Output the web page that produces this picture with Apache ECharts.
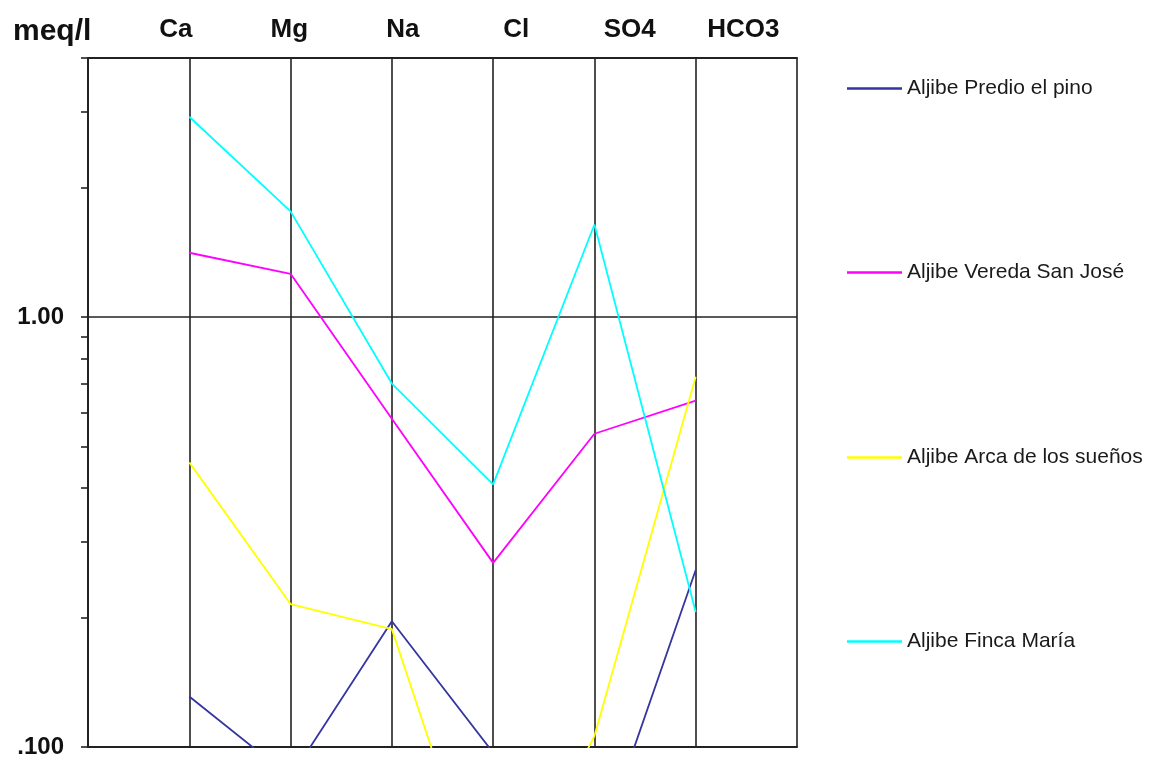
<!DOCTYPE html>
<html><head><meta charset="utf-8">
<script src="https://cdn.jsdelivr.net/npm/echarts@6/dist/echarts.min.js"></script>
<style>html,body{margin:0;padding:0;background:#fff}#c{width:1152px;height:761px}</style>
</head><body><div id="c"></div>
<script>
// ---- data ----
const ions = ['Ca', 'Mg', 'Na', 'Cl', 'SO4', 'HCO3'];
const names = ['Aljibe Predio el pino', 'Aljibe Vereda San José', 'Aljibe Arca de los sueños', 'Aljibe Finca María'];
const predio  = [0.131, 0.085, 0.196, 0.097, 0.054, 0.258];
const sanJose = [1.41, 1.26, 0.58, 0.268, 0.535, 0.639];
const arca    = [0.459, 0.215, 0.188, 0.037, 0.106, 0.726];
const finca   = [2.92, 1.76, 0.70, 0.408, 1.64, 0.206];
const yLabelValues = [0.1, 1];
const yLabelTexts = ['.100', '1.00'];
const yTickValues = [0.1, 0.2, 0.3, 0.4, 0.5, 0.6, 0.7, 0.8, 0.9, 1, 2, 3, 4];
const yGridValues = [1];
const colors = ['#3535A0', '#FF00FF', '#FFFF00', '#00FFFF'];
const allData = [predio, sanJose, arca, finca];

const chart = echarts.init(document.getElementById('c'), null, {renderer: 'canvas'});
const FONT = '"Liberation Sans", Arial, sans-serif';
const LINE = '#222';

const series = allData.map((arr, i) => ({
  name: names[i],
  type: 'line',
  xAxisIndex: 0, yAxisIndex: 0,
  symbol: 'none',
  clip: true,
  color: colors[i],
  lineStyle: {color: colors[i], width: 1.8},
  data: arr.map((v, k) => [k + 1, v]),
  z: 3
}));
// horizontal reference grid line(s)
series[0].markLine = {
  silent: true, symbol: 'none', label: {show: false},
  lineStyle: {color: LINE, width: 1.6, type: 'solid'},
  data: yGridValues.map(v => ({yAxis: v})),
  z: 2
};

const legendTops = [88, 272, 457, 641];
const legends = names.map((n, i) => ({
  data: [n],
  left: 847,
  top: legendTops[i] - 10,
  padding: 0,
  icon: 'rect',
  itemWidth: 55,
  itemHeight: 2.5,
  textStyle: {fontFamily: FONT, fontSize: 21, color: '#1a1a1a'},
  selectedMode: false
}));

function labelFor(v) {
  for (let i = 0; i < yLabelValues.length; i++) {
    if (Math.abs(v - yLabelValues[i]) < 1e-6 * Math.max(1, yLabelValues[i])) return yLabelTexts[i];
  }
  return '';
}

chart.setOption({
  animation: false,
  backgroundColor: '#fff',
  title: {text: 'meq/l', left: 13, top: 17, padding: 0,
          textStyle: {fontFamily: FONT, fontSize: 30, fontWeight: 'bold', color: '#111'}},
  legend: legends,
  grid: [
    {left: 88, right: 355, top: 58, bottom: 14},
    {left: 119, right: 352, top: 47, height: 1}
  ],
  xAxis: [
    {type: 'value', gridIndex: 0, min: 0, max: 7, interval: 1,
     axisLine: {show: true, lineStyle: {color: LINE, width: 2}},
     axisTick: {show: false}, axisLabel: {show: false},
     splitLine: {show: true, lineStyle: {color: LINE, width: 1.6}}},
    {type: 'category', gridIndex: 1, position: 'top', data: ions,
     axisLine: {show: false}, axisTick: {show: false}, splitLine: {show: false},
     axisLabel: {margin: 4, fontFamily: FONT, fontSize: 26, fontWeight: 'bold', color: '#111'}},
    {type: 'value', gridIndex: 0, position: 'top', min: 0, max: 7,
     axisLine: {show: true, onZero: false, lineStyle: {color: LINE, width: 2}},
     axisTick: {show: false}, axisLabel: {show: false}, splitLine: {show: false}}
  ],
  yAxis: [
    {type: 'log', gridIndex: 0, logBase: 10, min: 0.1, max: 4,
     axisLine: {show: true, lineStyle: {color: LINE, width: 2}},
     axisTick: {show: true, length: 7, inside: false, customValues: yTickValues, lineStyle: {color: LINE, width: 1.6}},
     axisLabel: {show: true, margin: 24, customValues: yLabelValues, formatter: labelFor,
                 fontFamily: FONT, fontSize: 24, fontWeight: 'bold', color: '#111'},
     splitLine: {show: false}},
    {type: 'value', gridIndex: 1, show: false}
  ],
  series: series
});
</script>
</body></html>
